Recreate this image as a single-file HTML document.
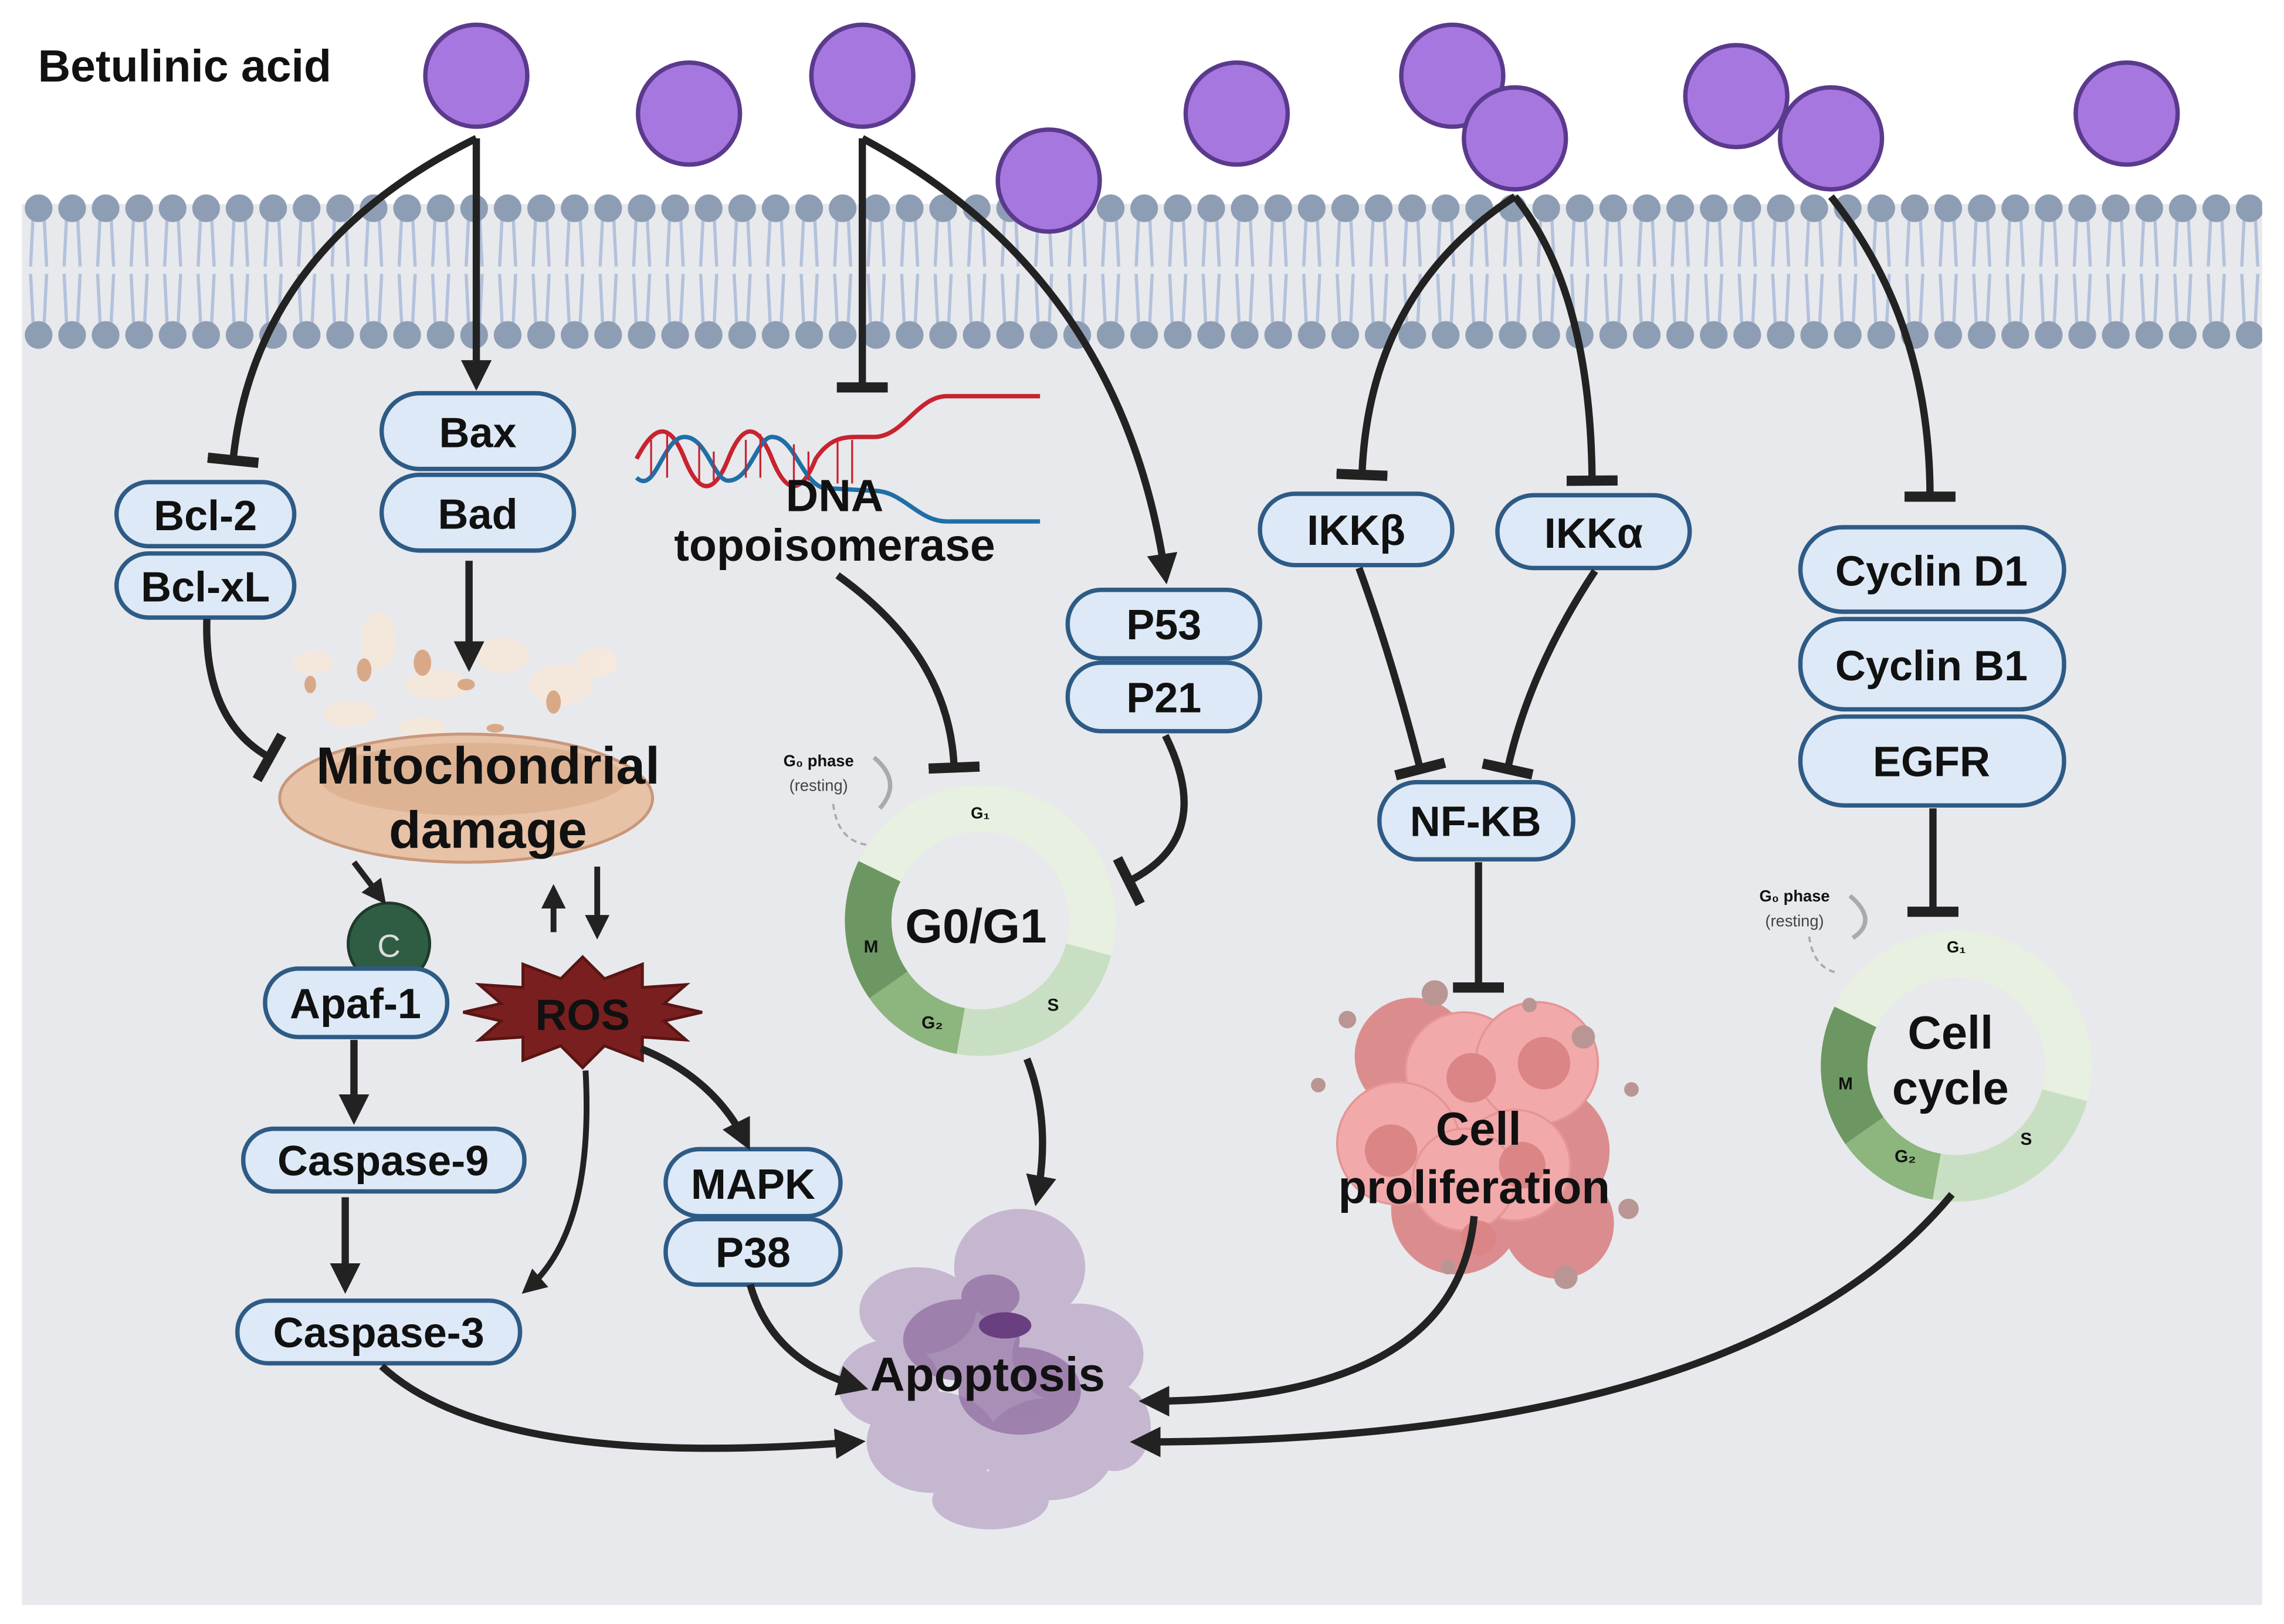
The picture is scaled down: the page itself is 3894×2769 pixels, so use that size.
<!DOCTYPE html>
<html><head><meta charset="utf-8"><style>
html,body{margin:0;padding:0;background:#fff;}
svg{display:block;}
text{font-family:"Liberation Sans",sans-serif;font-weight:bold;fill:#111;}
</style></head><body>
<svg width="3894" height="2769" viewBox="0 0 1568 1115" xmlns="http://www.w3.org/2000/svg">
<defs>
<pattern id="mem" x="15" y="128" width="23" height="115" patternUnits="userSpaceOnUse">
<path d="M8,15 L6,55 M15,15 L17,55 M6,60 L8,100 M17,60 L15,100" stroke="#b3c1dc" stroke-width="2.2" fill="none"/>
<circle cx="11.5" cy="15" r="9.5" fill="#8d9db4"/>
<circle cx="11.5" cy="102" r="9.5" fill="#8d9db4"/>
</pattern>
<marker id="ar" viewBox="0 0 10 10" refX="7" refY="5" markerWidth="4.2" markerHeight="4.2" orient="auto" markerUnits="strokeWidth">
<path d="M0,0 L10,5 L0,10 z" fill="#222"/></marker>
<marker id="tb" viewBox="0 0 10 10" refX="5" refY="5" markerWidth="7" markerHeight="7" orient="auto" markerUnits="strokeWidth">
<rect x="4" y="0" width="2" height="10" fill="#222"/></marker>
</defs>
<rect x="15" y="140" width="1538" height="962" fill="#e8e9ec"/>
<rect x="15" y="128" width="1538" height="115" fill="url(#mem)"/>

<text x="26" y="56" font-size="31">Betulinic acid</text>

<g fill="#a777e0" stroke="#5a3a8c" stroke-width="3">
<circle cx="327" cy="52" r="35"/><circle cx="473" cy="78" r="35"/><circle cx="592" cy="52" r="35"/>
<circle cx="720" cy="124" r="35"/><circle cx="849" cy="78" r="35"/><circle cx="997" cy="52" r="35"/>
<circle cx="1040" cy="95" r="35"/><circle cx="1192" cy="66" r="35"/><circle cx="1257" cy="95" r="35"/>
<circle cx="1460" cy="78" r="35"/>
</g>

<g fill="#f6e8dc" opacity="0.9">
<ellipse cx="215" cy="455" rx="14" ry="8"/><ellipse cx="260" cy="440" rx="12" ry="20"/><ellipse cx="300" cy="470" rx="22" ry="10"/>
<ellipse cx="345" cy="450" rx="18" ry="12"/><ellipse cx="385" cy="470" rx="22" ry="14"/><ellipse cx="240" cy="490" rx="18" ry="9"/>
<ellipse cx="410" cy="455" rx="14" ry="10"/><ellipse cx="290" cy="500" rx="16" ry="8"/>
</g>
<g fill="#d9a987">
<ellipse cx="250" cy="460" rx="5" ry="8"/><ellipse cx="290" cy="455" rx="6" ry="9"/><ellipse cx="320" cy="470" rx="6" ry="4"/>
<ellipse cx="380" cy="482" rx="5" ry="8"/><ellipse cx="213" cy="470" rx="4" ry="6"/><ellipse cx="340" cy="500" rx="6" ry="3"/>
</g>
<ellipse cx="320" cy="548" rx="128" ry="44" fill="#e7c2a6" stroke="#c8977a" stroke-width="2"/>
<ellipse cx="325" cy="535" rx="105" ry="25" fill="#d9a987" opacity="0.6"/>

<g fill="#b7a2c4" opacity="0.7">
<ellipse cx="630" cy="900" rx="40" ry="30"/><ellipse cx="700" cy="870" rx="45" ry="40"/><ellipse cx="740" cy="930" rx="45" ry="35"/>
<ellipse cx="640" cy="990" rx="45" ry="35"/><ellipse cx="720" cy="995" rx="45" ry="35"/><ellipse cx="610" cy="950" rx="35" ry="30"/>
<ellipse cx="680" cy="1030" rx="40" ry="20"/><ellipse cx="765" cy="980" rx="25" ry="30"/>
</g>
<g fill="#8e6aa0" opacity="0.7">
<ellipse cx="660" cy="920" rx="40" ry="28"/><ellipse cx="700" cy="955" rx="42" ry="30"/><ellipse cx="680" cy="890" rx="20" ry="15"/>
</g>
<ellipse cx="690" cy="910" rx="18" ry="9" fill="#6a3f80"/>

<g fill="#d98384" opacity="0.9">
<circle cx="970" cy="725" r="40"/><circle cx="1060" cy="790" r="45"/><circle cx="1000" cy="830" r="45"/><circle cx="1070" cy="840" r="38"/>
</g>
<g fill="#f2a9aa" stroke="#e59596" stroke-width="1.5">
<circle cx="1005" cy="735" r="40"/><circle cx="1055" cy="730" r="42"/><circle cx="960" cy="785" r="42"/><circle cx="1040" cy="800" r="38"/>
<circle cx="1005" cy="810" r="35"/>
</g>
<g fill="#dc8586">
<circle cx="1010" cy="740" r="17"/><circle cx="1060" cy="730" r="18"/><circle cx="955" cy="790" r="18"/><circle cx="1045" cy="800" r="16"/><circle cx="1015" cy="850" r="12"/>
</g>
<g fill="#b99693">
<circle cx="985" cy="682" r="9"/><circle cx="1087" cy="712" r="8"/><circle cx="1050" cy="690" r="5"/><circle cx="925" cy="700" r="6"/>
<circle cx="905" cy="745" r="5"/><circle cx="1120" cy="748" r="5"/><circle cx="1118" cy="830" r="7"/><circle cx="1075" cy="877" r="8"/><circle cx="994" cy="870" r="5"/>
</g>

<g transform="translate(673,632)">
<circle r="77" fill="none" stroke="#e7f0e1" stroke-width="32" stroke-dasharray="235 999" transform="rotate(205)"/>
<circle r="77" fill="none" stroke="#c9dfc3" stroke-width="32" stroke-dasharray="114 999" transform="rotate(15)"/>
<circle r="77" fill="none" stroke="#8db57e" stroke-width="32" stroke-dasharray="61 999" transform="rotate(100)"/>
<circle r="77" fill="none" stroke="#6c9762" stroke-width="32" stroke-dasharray="82 999" transform="rotate(145)"/>
<text x="0" y="-70" font-size="11" text-anchor="middle">G₁</text>
<text x="50" y="62" font-size="12" text-anchor="middle">S</text>
<text x="-33" y="74" font-size="12" text-anchor="middle">G₂</text>
<text x="-75" y="22" font-size="12" text-anchor="middle">M</text>
<text x="-3" y="15" font-size="33" text-anchor="middle">G0/G1</text>
</g>
<text x="562" y="526" font-size="11" text-anchor="middle">G₀ phase</text>
<text x="562" y="543" font-size="11" text-anchor="middle" style="font-weight:normal;fill:#444">(resting)</text>
<path d="M604,555 Q620,537 600,520" stroke="#aaa" stroke-width="3" fill="none"/>
<path d="M572,552 Q575,577 595,580" stroke="#aaa" stroke-width="1.5" fill="none" stroke-dasharray="4 3"/>

<g transform="translate(1343,732)">
<circle r="77" fill="none" stroke="#e7f0e1" stroke-width="32" stroke-dasharray="235 999" transform="rotate(205)"/>
<circle r="77" fill="none" stroke="#c9dfc3" stroke-width="32" stroke-dasharray="114 999" transform="rotate(15)"/>
<circle r="77" fill="none" stroke="#8db57e" stroke-width="32" stroke-dasharray="61 999" transform="rotate(100)"/>
<circle r="77" fill="none" stroke="#6c9762" stroke-width="32" stroke-dasharray="82 999" transform="rotate(145)"/>
<text x="0" y="-78" font-size="11" text-anchor="middle">G₁</text>
<text x="48" y="54" font-size="12" text-anchor="middle">S</text>
<text x="-35" y="66" font-size="12" text-anchor="middle">G₂</text>
<text x="-76" y="16" font-size="12" text-anchor="middle">M</text>
<text x="-4" y="-12" font-size="32" text-anchor="middle">Cell</text>
<text x="-4" y="26" font-size="32" text-anchor="middle">cycle</text>
</g>
<text x="1232" y="619" font-size="11" text-anchor="middle">G₀ phase</text>
<text x="1232" y="636" font-size="11" text-anchor="middle" style="font-weight:normal;fill:#444">(resting)</text>
<path d="M1272,644 Q1290,632 1270,615" stroke="#aaa" stroke-width="3" fill="none"/>
<path d="M1242,643 Q1245,665 1262,668" stroke="#aaa" stroke-width="1.5" fill="none" stroke-dasharray="4 3"/>

<g fill="none" stroke-width="3">
<path d="M437,315 C450,290 460,290 470,315 C480,340 490,340 500,315 C510,290 520,290 530,315 C540,340 550,340 560,315 C570,300 580,300 590,300 L600,300 C620,300 630,272 650,272 L714,272" stroke="#c8232f"/>
<path d="M437,328 C450,340 455,300 470,300 C485,300 490,330 500,330 C515,330 520,300 530,300 C545,300 550,330 565,335 L600,337 C620,337 630,358 650,358 L714,358" stroke="#1f6fa6"/>
<path d="M447,302 v24 M458,298 v30 M480,305 v28 M490,310 v20 M512,302 v26 M522,298 v30 M545,305 v28 M555,310 v20 M575,302 v30 M585,302 v30" stroke="#c8232f" stroke-width="1.3"/>
</g>
<text x="573" y="351" font-size="31" text-anchor="middle">DNA</text>
<text x="573" y="385" font-size="31" text-anchor="middle">topoisomerase</text>

<text x="335" y="538" font-size="36" text-anchor="middle">Mitochondrial</text>
<text x="335" y="582" font-size="36" text-anchor="middle">damage</text>

<circle cx="267" cy="648" r="28" fill="#2f5d44" stroke="#1d3a2a" stroke-width="2"/>
<text x="267" y="657" font-size="22" text-anchor="middle" style="fill:#ddd;font-weight:normal">C</text>

<polygon points="482,695 456,701 471,714 441,712 441,728 415,718 400,733 385,718 359,728 359,712 329,714 344,701 318,695 344,689 329,676 359,678 359,662 385,672 400,657 415,672 441,662 441,678 471,676 456,689" fill="#7a1f1f" stroke="#5a1414" stroke-width="2"/>
<text x="400" y="707" font-size="30" text-anchor="middle">ROS</text>

<g fill="#dde9f6" stroke="#2e5b86" stroke-width="3">
<rect x="80" y="331" width="122" height="44" rx="22"/><rect x="80" y="380" width="122" height="44" rx="22"/>
<rect x="262" y="270" width="132" height="52" rx="26"/><rect x="262" y="326" width="132" height="52" rx="26"/>
<rect x="182" y="665" width="125" height="47" rx="23"/>
<rect x="167" y="775" width="193" height="43" rx="21"/>
<rect x="163" y="893" width="194" height="43" rx="21"/>
<rect x="457" y="789" width="120" height="46" rx="23"/><rect x="457" y="837" width="120" height="45" rx="22"/>
<rect x="733" y="405" width="132" height="47" rx="23"/><rect x="733" y="455" width="132" height="47" rx="23"/>
<rect x="865" y="339" width="132" height="49" rx="24"/><rect x="1028" y="340" width="132" height="50" rx="25"/>
<rect x="947" y="537" width="133" height="53" rx="26"/>
<rect x="1236" y="362" width="181" height="58" rx="29"/><rect x="1236" y="425" width="181" height="62" rx="30"/><rect x="1236" y="492" width="181" height="61" rx="30"/>
</g>
<g font-size="29" text-anchor="middle">
<text x="141" y="364">Bcl-2</text><text x="141" y="413">Bcl-xL</text>
<text x="328" y="307">Bax</text><text x="328" y="363">Bad</text>
<text x="244" y="699">Apaf-1</text>
<text x="263" y="807">Caspase-9</text>
<text x="260" y="925">Caspase-3</text>
<text x="517" y="823">MAPK</text><text x="517" y="870">P38</text>
<text x="799" y="439">P53</text><text x="799" y="489">P21</text>
<text x="931" y="374">IKKβ</text><text x="1094" y="376">IKKα</text>
<text x="1013" y="574">NF-KB</text>
<text x="1326" y="402">Cyclin D1</text><text x="1326" y="467">Cyclin B1</text><text x="1326" y="533">EGFR</text>
</g>
<text x="678" y="955" font-size="33" text-anchor="middle">Apoptosis</text>
<text x="1015" y="786" font-size="32" text-anchor="middle">Cell</text>
<text x="1012" y="826" font-size="32" text-anchor="middle">proliferation</text>

<g fill="none" stroke="#222" stroke-width="5">
<path d="M327,95 L327,262" marker-end="url(#ar)"/>
<path d="M327,95 Q175,170 160,316" marker-end="url(#tb)"/>
<path d="M322,385 L322,455" marker-end="url(#ar)"/>
<path d="M142,425 Q140,495 185,520" marker-end="url(#tb)"/>
<path d="M243,592 L262,617" marker-end="url(#ar)" stroke-width="4"/>
<path d="M380,640 L380,612" marker-end="url(#ar)" stroke-width="4"/>
<path d="M410,595 L410,640" marker-end="url(#ar)" stroke-width="4"/>
<path d="M243,714 L243,766" marker-end="url(#ar)"/>
<path d="M237,822 L237,882" marker-end="url(#ar)"/>
<path d="M402,735 Q408,845 362,885" marker-end="url(#ar)" stroke-width="4"/>
<path d="M440,720 Q490,740 512,784" marker-end="url(#ar)"/>
<path d="M515,882 Q530,935 590,952" marker-end="url(#ar)"/>
<path d="M262,938 Q340,1010 588,990" marker-end="url(#ar)"/>
<path d="M592,95 L592,266" marker-end="url(#tb)"/>
<path d="M592,95 Q770,190 800,395" marker-end="url(#ar)"/>
<path d="M575,395 Q652,450 655,527" marker-end="url(#tb)"/>
<path d="M800,505 Q835,575 775,605" marker-end="url(#tb)"/>
<path d="M705,727 Q722,770 712,822" marker-end="url(#ar)"/>
<path d="M1040,135 Q940,200 935,326" marker-end="url(#tb)"/>
<path d="M1040,135 Q1092,200 1093,330" marker-end="url(#tb)"/>
<path d="M933,390 Q955,450 975,528" marker-end="url(#tb)"/>
<path d="M1095,392 Q1050,460 1035,528" marker-end="url(#tb)"/>
<path d="M1015,592 L1015,678" marker-end="url(#tb)"/>
<path d="M1012,835 Q1000,962 788,962" marker-end="url(#ar)"/>
<path d="M1257,135 Q1325,220 1325,341" marker-end="url(#tb)"/>
<path d="M1327,555 L1327,626" marker-end="url(#tb)"/>
<path d="M1340,820 Q1200,990 782,990" marker-end="url(#ar)"/>
</g>
</svg>
</body></html>
